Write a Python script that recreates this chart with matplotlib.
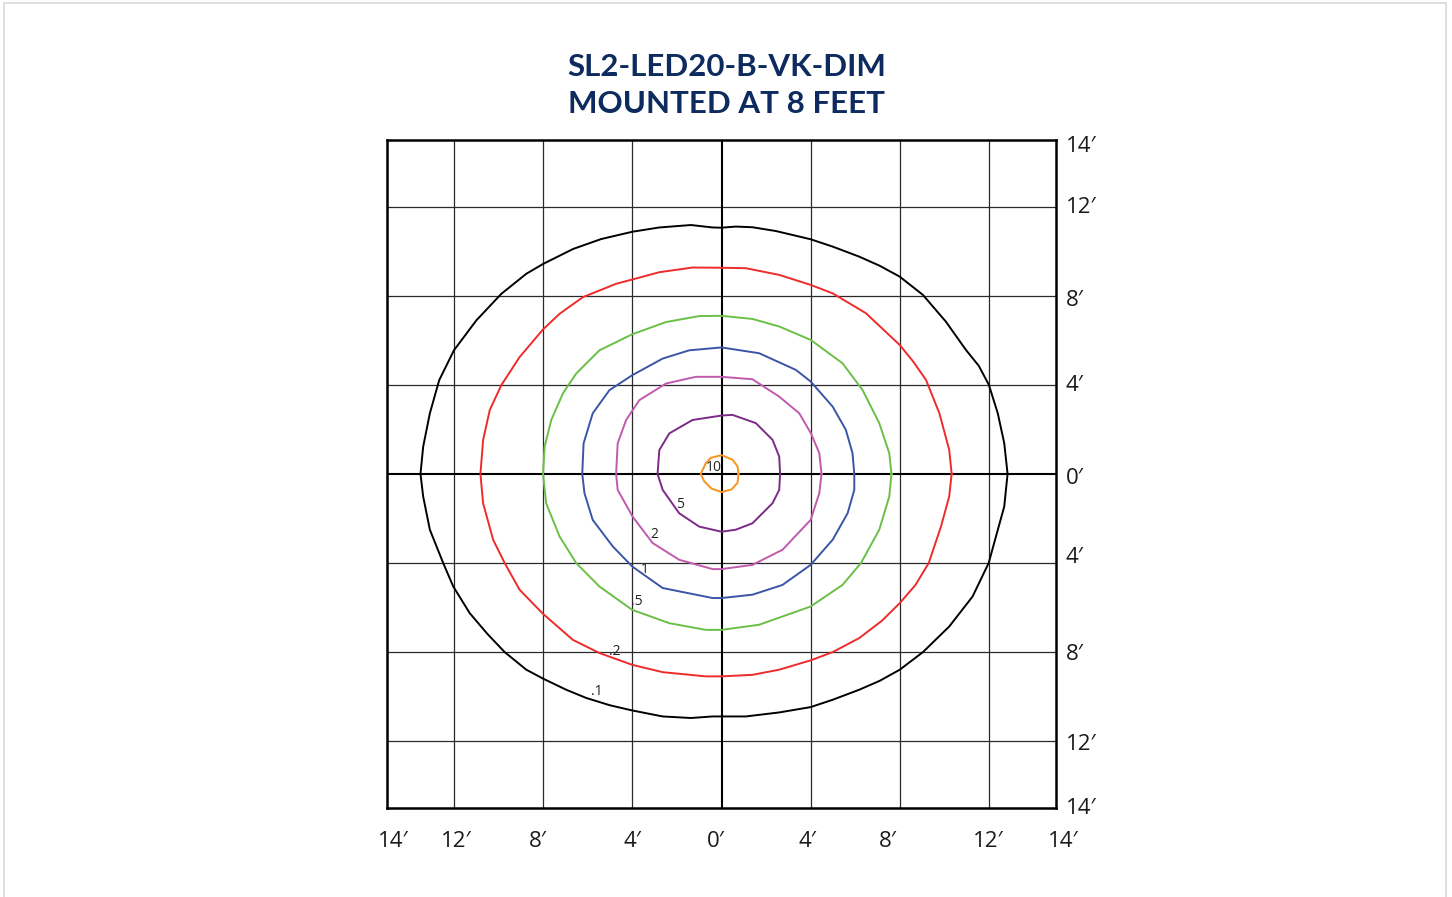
import numpy as np
import matplotlib.pyplot as plt
from matplotlib.patches import Rectangle

# isofootcandle contours, feet from fixture, read counter-clockwise from +x
levels = ['.1', '.2', '.5', '1', '2', '5', '10']
colors = ['#000000', '#ee2b2b', '#6bbf47', '#3a55a6', '#c05aad', '#7b2b86', '#f7931e']

c01_x = [12.84, 12.69, 12.4, 12.0, 11.55, 10.97, 10.07, 9.04, 8.0, 7.1, 6.18, 4.99, 4.0, 2.44, 1.39, 0.64, 0.0,
         -0.4, -1.37, -2.79, -3.99, -5.4, -6.67, -8.01, -8.76, -9.88, -11.0, -12.01, -12.67, -13.09, -13.39, -13.51,
         -13.39, -13.09, -12.49, -12.04, -11.3, -10.5, -9.73, -8.76, -8.01, -6.97, -6.07, -5.0, -4.01, -2.64, -1.37, -0.4, 0.0,
         1.09, 2.59, 4.0, 4.99, 6.18, 7.1, 8.0, 9.04, 10.22, 11.27, 11.99, 12.32, 12.69]
c01_y = [0.0, 1.38, 2.72, 4.0, 4.85, 5.57, 6.84, 8.04, 8.86, 9.35, 9.76, 10.21, 10.54, 10.91, 11.08, 11.11, 11.06,
         11.07, 11.18, 11.07, 10.88, 10.55, 10.1, 9.43, 8.99, 8.09, 6.9, 5.55, 4.21, 2.72, 1.22, 0.0,
         -1.02, -2.51, -4.01, -5.06, -6.26, -7.2, -8.01, -8.8, -9.2, -9.7, -10.07, -10.4, -10.63, -10.9, -10.97, -10.9, -10.9,
         -10.9, -10.72, -10.48, -10.15, -9.7, -9.3, -8.8, -8.01, -6.86, -5.51, -4.01, -2.81, -1.47]

c02_x = [10.33, 10.22, 9.78, 9.18, 8.6, 8.0, 6.48, 4.99, 4.0, 2.59, 1.09, 0.0,
         -1.3, -2.79, -4.01, -4.73, -6.22, -7.27, -8.01, -9.06, -9.88, -10.4, -10.7, -10.82,
         -10.7, -10.25, -9.73, -9.06, -8.01, -6.67, -5.48, -4.01, -2.64, -0.7, 0.0,
         1.39, 2.59, 4.0, 4.99, 6.18, 7.2, 8.0, 8.7, 9.3, 9.85, 10.22]
c02_y = [0.0, 1.08, 2.72, 4.22, 5.05, 5.79, 7.22, 8.11, 8.49, 8.94, 9.24, 9.26,
         9.27, 9.06, 8.73, 8.54, 7.94, 7.19, 6.49, 5.25, 3.99, 2.87, 1.52, 0.0,
         -1.32, -2.96, -4.01, -5.21, -6.29, -7.46, -8.05, -8.58, -8.91, -9.1, -9.1,
         -9.03, -8.8, -8.38, -8.01, -7.38, -6.6, -5.81, -5.0, -4.01, -2.37, -1.02]

c05_x = [7.63, 7.53, 7.08, 6.33, 5.43, 4.0, 2.59, 1.39, 0.0,
         -1.0, -2.49, -4.01, -5.48, -6.52, -7.12, -7.64, -7.94, -8.01,
         -7.87, -7.27, -6.52, -5.48, -4.01, -2.34, -0.7, 0.0,
         1.69, 4.0, 5.43, 6.26, 7.08, 7.53]
c05_y = [0.0, 0.93, 2.28, 3.77, 4.97, 6.02, 6.62, 6.96, 7.1,
         7.09, 6.82, 6.27, 5.55, 4.51, 3.61, 2.42, 1.22, 0.0,
         -1.32, -2.81, -4.01, -5.06, -6.11, -6.71, -7.01, -7.01,
         -6.78, -5.96, -4.99, -4.01, -2.51, -1.02]

c1_x = [5.96, 5.88, 5.58, 4.99, 4.0, 3.34, 1.69, 0.0,
        -1.45, -2.64, -4.01, -5.03, -5.78, -6.19, -6.25,
        -6.15, -5.78, -4.88, -4.01, -2.64, -0.4, 0.0,
        1.39, 2.74, 4.0, 4.99, 5.66, 5.96]
c1_y = [0.0, 0.93, 1.98, 3.02, 4.15, 4.67, 5.42, 5.68,
        5.55, 5.18, 4.43, 3.76, 2.72, 1.37, 0.0,
        -0.87, -2.07, -3.26, -4.16, -5.13, -5.58, -5.58,
        -5.43, -4.99, -4.09, -2.96, -1.77, -0.72]

c2_x = [4.49, 4.39, 4.01, 3.49, 2.59, 1.39, 0.0,
        -1.15, -2.49, -3.69, -4.28, -4.66, -4.73,
        -4.66, -3.99, -3.09, -1.9, -0.4, 0.0,
        1.39, 2.74, 4.0, 4.39]
c2_y = [0.0, 0.93, 1.83, 2.72, 3.47, 4.25, 4.36,
        4.36, 4.06, 3.31, 2.42, 1.37, 0.0,
        -0.72, -1.92, -3.11, -3.86, -4.28, -4.28,
        -4.09, -3.41, -2.07, -0.87]

c5_x = [2.63, 2.59, 2.29, 1.54, 0.49, 0.0, -1.3, -2.34, -2.79, -2.87,
        -2.64, -1.9, -1.0, 0.0, 0.64, 1.39, 2.29, 2.59]
c5_y = [0.0, 0.78, 1.53, 2.28, 2.65, 2.62, 2.42, 1.82, 1.07, 0.0,
        -0.72, -1.77, -2.37, -2.6, -2.51, -2.22, -1.32, -0.72]

c10_x = [0.76, 0.72, 0.49, 0.0, -0.48, -0.7, -0.93, -0.78, -0.45, 0.0, 0.45, 0.72]
c10_y = [0.0, 0.34, 0.64, 0.84, 0.72, 0.49, 0.0, -0.33, -0.66, -0.82, -0.7, -0.4]

contour_x = [c01_x, c02_x, c05_x, c1_x, c2_x, c5_x, c10_x]
contour_y = [c01_y, c02_y, c05_y, c1_y, c2_y, c5_y, c10_y]

# where each level is labelled
label_x = [-5.6, -4.81, -3.79, -3.45, -3.0, -1.86, -0.33]
label_y = [-9.79, -7.96, -5.72, -4.3, -2.73, -1.39, 0.28]

grid_ft = [-12, -8, -4, 4, 8, 12]
xtick_text = ['14\u2032', '12\u2032', '8\u2032', '4\u2032', '0\u2032', '4\u2032', '8\u2032', '12\u2032', '14\u2032']
xtick_pos = [-14.75, -11.92, -8.25, -3.99, -0.24, 3.84, 7.46, 11.99, 15.36]
ytick_text = ['14\u2032', '12\u2032', '8\u2032', '4\u2032', '0\u2032', '4\u2032', '8\u2032', '12\u2032', '14\u2032']
ytick_pos = [14.72, 11.95, 7.78, 3.98, -0.21, -3.75, -8.1, -12.18, -15.05]

fig = plt.figure(figsize=(14.52, 8.97), dpi=100)
fig.patches.append(Rectangle((4 / 1452, -0.01), 1442 / 1452, 1 - 3 / 897 + 0.01,
                             transform=fig.transFigure, fill=False, ec='#d9d9d9', lw=1.2))

ax = fig.add_axes([387.3 / 1452, 1 - 807.7 / 897, 668.4 / 1452, 667.7 / 897])
ax.set_xlim(-15, 15)
ax.set_ylim(-15, 15)
ax.set_xticks([])
ax.set_yticks([])
for s in ax.spines.values():
    s.set_linewidth(1.8)

for g in grid_ft:
    ax.axvline(g, color='#2a2a2a', lw=0.9, zorder=1)
    ax.axhline(g, color='#2a2a2a', lw=0.9, zorder=1)
ax.axvline(0, color='black', lw=1.5, zorder=1)
ax.axhline(0, color='black', lw=1.5, zorder=1)

for xs, ys, c in zip(contour_x, contour_y, colors):
    ax.plot(xs + xs[:1], ys + ys[:1], color=c, lw=1.4, zorder=3,
            solid_joinstyle='round')

for lab, lx, ly in zip(levels, label_x, label_y):
    ax.text(lx, ly, lab, fontsize=10, ha='center', va='center', color='#222222',
            family=['Open Sans', 'DejaVu Sans'], zorder=4)

tick_font = dict(fontsize=16, color='#1a1a1a', family=['Open Sans', 'DejaVu Sans'], clip_on=False)
for t, p in zip(xtick_text, xtick_pos):
    ax.text(p, -16.5, t, ha='center', va='center', **tick_font)
for t, p in zip(ytick_text, ytick_pos):
    ax.text(15.45, p, t, ha='left', va='center', **tick_font)

title_font = dict(fontsize=22.5, fontweight='bold', color='#0d2b5e', ha='center', va='center',
                  family=['Lato', 'DejaVu Sans'])
fig.text(727 / 1452, 1 - 67 / 897, 'SL2-LED20-B-VK-DIM', **title_font)
fig.text(727 / 1452, 1 - 104 / 897, 'MOUNTED AT 8 FEET', **title_font)

fig.savefig('out.png', dpi=100)
